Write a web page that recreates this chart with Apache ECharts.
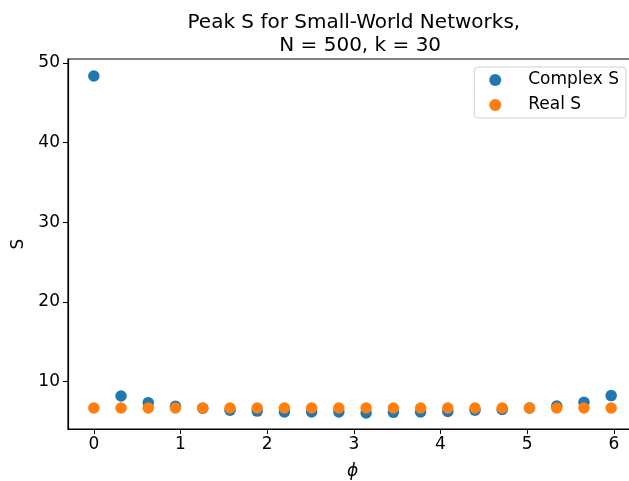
<!DOCTYPE html>
<html>
<head>
<meta charset="utf-8">
<script src="https://cdn.jsdelivr.net/npm/echarts@6/dist/echarts.min.js"></script>
<style>html,body{margin:0;padding:0;background:#fff;}#c{width:629px;height:481px;}</style>
</head>
<body>
<div id="c"></div>
<script>
var phi = [0, 0.314, 0.628, 0.942, 1.257, 1.571, 1.885, 2.199, 2.513, 2.827,
           3.142, 3.456, 3.770, 4.084, 4.398, 4.712, 5.027, 5.341, 5.655, 5.969];
var complexS = [48.37, 8.19, 7.36, 6.9, 6.65, 6.4, 6.3, 6.18, 6.18, 6.18,
                6.06, 6.14, 6.18, 6.26, 6.4, 6.5, 6.69, 6.94, 7.4, 8.24];
var realS = [6.69, 6.69, 6.69, 6.69, 6.69, 6.69, 6.69, 6.69, 6.69, 6.69,
             6.69, 6.69, 6.69, 6.69, 6.69, 6.69, 6.69, 6.69, 6.69, 6.69];
var xTicks = [0, 1, 2, 3, 4, 5, 6];
var yTicks = [10, 20, 30, 40, 50];

function pairs(xs, ys) { return xs.map(function (x, i) { return [x, ys[i]]; }); }

var font = 'DejaVu Sans';
var chart = echarts.init(document.getElementById('c'));
chart.setOption({
  animation: false,
  backgroundColor: '#fff',
  title: {
    text: 'Peak S for Small-World Networks, \n N = 500, k = 30',
    left: 352, top: 6, textAlign: 'center',
    textStyle: { fontFamily: font, fontSize: 20, fontWeight: 'normal', color: '#000', lineHeight: 23 }
  },
  legend: {
    orient: 'vertical', right: 3, top: 67,
    data: ['Complex S', 'Real S'],
    icon: 'circle', itemWidth: 12, itemHeight: 12, itemGap: 5,
    padding: [3, 7, 3, 15],
    borderColor: '#d0d0d0', borderWidth: 1, borderRadius: 4,
    textStyle: { fontFamily: font, fontSize: 17, color: '#000', padding: [0, 0, 0, 22], lineHeight: 20 }
  },
  grid: { left: 68, top: 59, right: -8, bottom: 52, outerBoundsMode: 'none', containLabel: false, show: true, borderColor: '#000', borderWidth: 1.2, backgroundColor: 'transparent' },
  xAxis: {
    type: 'value', min: -0.298, max: 6.267,
    name: 'ϕ', nameLocation: 'middle', nameGap: 34,
    nameTextStyle: { fontFamily: font, fontSize: 17, fontStyle: 'italic', color: '#000' },
    axisLine: { show: true, onZero: false, lineStyle: { color: '#000', width: 1.2 } },
    axisTick: { show: true, length: 5, lineStyle: { color: '#000' }, customValues: xTicks },
    axisLabel: { fontFamily: font, fontSize: 17, color: '#000', margin: 7, customValues: xTicks },
    splitLine: { show: false }
  },
  yAxis: {
    type: 'value', min: 4.05, max: 50.5,
    name: 'S', nameLocation: 'middle', nameGap: 40,
    nameTextStyle: { fontFamily: font, fontSize: 17, color: '#000' },
    axisLine: { show: true, onZero: false, lineStyle: { color: '#000', width: 1.2 } },
    axisTick: { show: true, length: 5, lineStyle: { color: '#000' }, customValues: yTicks },
    axisLabel: { fontFamily: font, fontSize: 17, color: '#000', margin: 8, customValues: yTicks },
    splitLine: { show: false }
  },
  series: [
    { name: 'Complex S', type: 'scatter', symbol: 'circle', symbolSize: 11.5, itemStyle: { color: '#1f77b4', opacity: 1 }, data: pairs(phi, complexS) },
    { name: 'Real S', type: 'scatter', symbol: 'circle', symbolSize: 11.5, itemStyle: { color: '#ff7f0e', opacity: 1 }, data: pairs(phi, realS) }
  ]
});
</script>
</body>
</html>
